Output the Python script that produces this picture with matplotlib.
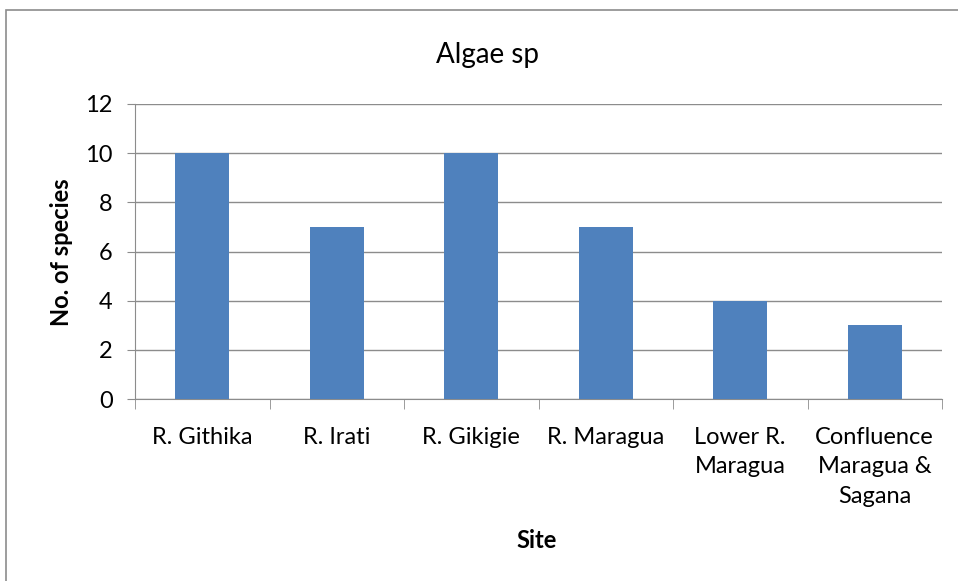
import matplotlib
matplotlib.use("Agg")
import matplotlib.pyplot as plt
from matplotlib.patches import Rectangle
import numpy as np

plt.rcParams['font.family'] = ['Lato', 'DejaVu Sans']

sites = ["R. Githika", "R. Irati", "R. Gikigie", "R. Maragua",
         "Lower R.\nMaragua", "Confluence\nMaragua &\nSagana"]
counts = [10, 7, 10, 7, 4, 3]
yticks = [0, 2, 4, 6, 8, 10, 12]

W, H = 958, 581
fig = plt.figure(figsize=(W / 100, H / 100), dpi=100)
ax = fig.add_axes([135/W, 1 - 399/H, (942 - 135)/W, (399 - 104)/H])

# outer chart border (cut off at right and bottom in the original)
fig.patches.append(Rectangle((6/W, -0.1), 1.2, 1.1 - 10/H,
                             transform=fig.transFigure, fill=False,
                             edgecolor="#8c8c8c", linewidth=1.2))

x = np.arange(len(sites))
ax.bar(x, counts, width=0.4, color="#4f81bd", zorder=3)

ax.set_xlim(-0.5, len(sites) - 0.5)
ax.set_ylim(0, 12)
ax.set_yticks(yticks)
ax.yaxis.grid(True, color="#8c8c8c", linewidth=1.0, zorder=0)

ax.set_xticks(x)
ax.set_xticklabels(sites, fontsize=17, linespacing=1.5)
ax.set_xticks(np.arange(len(sites) + 1) - 0.5, minor=True)
ax.tick_params(axis="x", which="major", length=0, pad=20)
ax.tick_params(axis="x", which="minor", length=7, color="#8c8c8c")
ax.tick_params(axis="y", length=6, color="#8c8c8c", labelsize=17, pad=10)

for s in ["top", "right"]:
    ax.spines[s].set_visible(False)
for s in ["left", "bottom"]:
    ax.spines[s].set_color("#8c8c8c")

fig.text(487/W, 1 - 55/H, "Algae sp", fontsize=20, ha="center", va="center")
fig.text(537/W, 1 - 540/H, "Site", fontsize=17, fontweight="bold",
         ha="center", va="center")
fig.text(62/W, 1 - 252/H, "No. of species", fontsize=17, fontweight="bold",
         rotation=90, ha="center", va="center")

fig.savefig("out.png", dpi=100)
